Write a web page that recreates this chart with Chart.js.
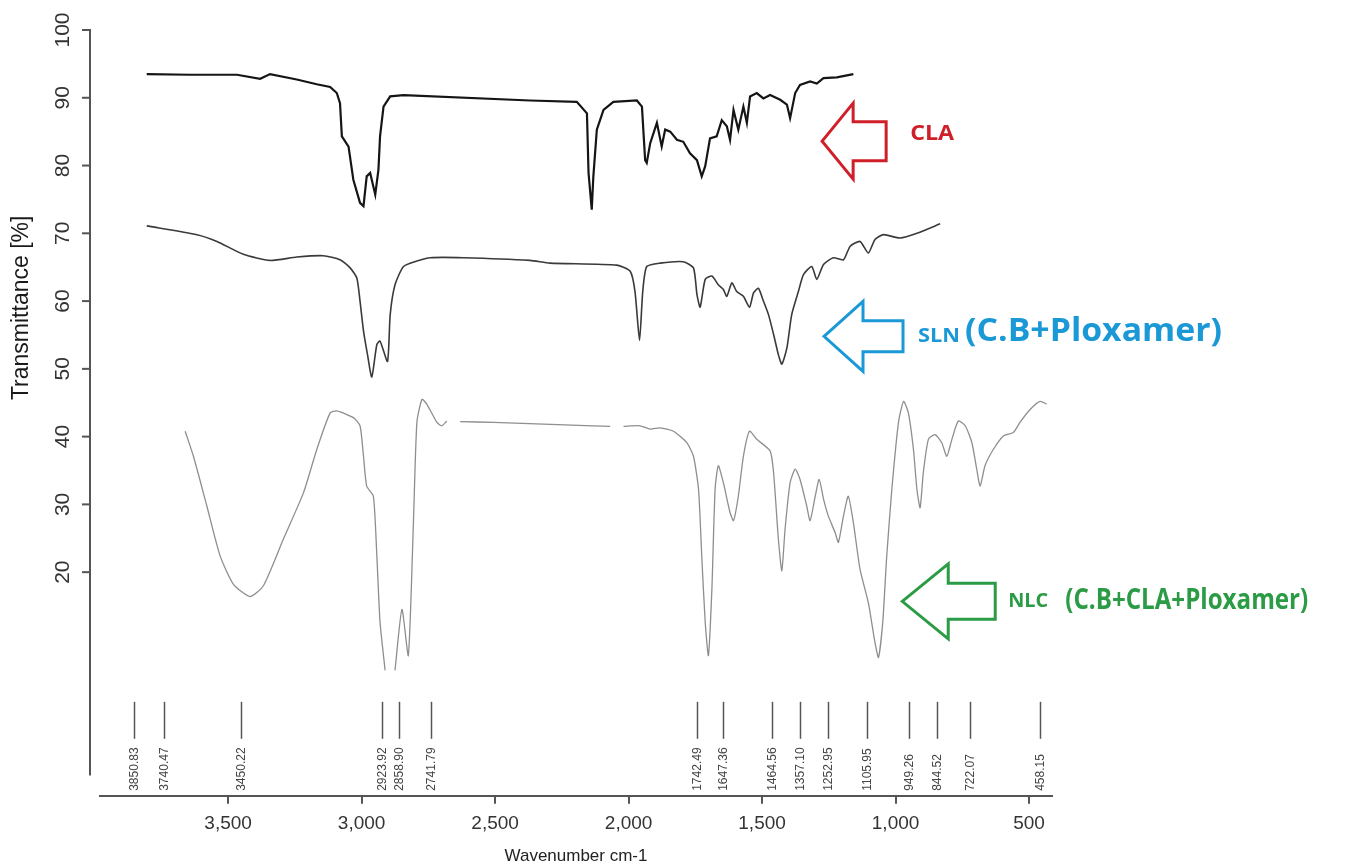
<!DOCTYPE html>
<html>
<head>
<meta charset="utf-8">
<title>FTIR – CLA, SLN, NLC</title>
<script src="https://cdn.jsdelivr.net/npm/chart.js@4.4.1/dist/chart.umd.min.js"></script>
<style>
  html, body { margin: 0; padding: 0; background: #fff; }
  #wrap { width: 1345px; height: 867px; position: relative; }
</style>
</head>
<body>
<div id="wrap"><canvas id="ftir"></canvas></div>
<script>
// spectra: wavenumber (cm-1) and transmittance (%)
const claWave = [3805, 3642, 3467, 3380, 3343, 3243, 3168, 3118, 3093, 3081, 3074, 3049, 3031, 3006, 2993, 2981, 2968, 2949, 2937, 2931,
  2918, 2893, 2843, 2369, 2194, 2156, 2150, 2138, 2132, 2119, 2094, 2057, 1969, 1950, 1938, 1932, 1919, 1894, 1876, 1863,
  1844, 1819, 1795, 1770, 1744, 1726, 1713, 1695, 1670, 1651, 1632, 1620, 1607, 1589, 1570, 1557, 1545, 1520, 1495, 1470,
  1432, 1407, 1395, 1376, 1358, 1320, 1295, 1270, 1220, 1158];
const claT = [93.5, 93.4, 93.4, 92.8, 93.5, 92.7, 92.0, 91.6, 90.7, 89.2, 84.3, 82.8, 77.9, 74.5, 74.0, 78.4, 78.9, 75.7, 79.4, 84.3,
  88.7, 90.2, 90.4, 89.6, 89.4, 87.7, 78.9, 73.5, 78.4, 85.3, 88.2, 89.4, 89.6, 88.7, 80.8, 80.4, 83.3, 86.3, 82.8, 85.3,
  85.0, 83.8, 83.5, 81.8, 80.8, 78.4, 79.9, 84.0, 84.3, 86.7, 85.8, 83.8, 88.2, 85.3, 88.7, 86.3, 90.2, 90.7, 89.9, 90.4,
  89.7, 89.0, 87.0, 90.7, 91.9, 92.4, 92.1, 92.9, 93.0, 93.5];

const slnWave = [3805, 3617, 3542, 3443, 3343, 3243, 3143, 3081, 3043, 3018, 3006, 2993, 2978, 2962, 2943, 2931, 2903, 2893, 2875, 2843,
  2793, 2743, 2619, 2369, 2294, 2044, 1994, 1976, 1959, 1947, 1932, 1882, 1795, 1757, 1744, 1732, 1713, 1688, 1664, 1645,
  1632, 1613, 1595, 1570, 1547, 1532, 1514, 1495, 1476, 1457, 1439, 1426, 1407, 1389, 1364, 1345, 1314, 1295, 1270, 1233,
  1195, 1170, 1133, 1102, 1077, 1045, 983, 920, 833];
const slnT = [71.1, 69.8, 68.8, 66.9, 66.0, 66.5, 66.7, 66.1, 64.9, 63.4, 60.0, 55.6, 52.1, 48.8, 53.6, 54.1, 51.1, 58.0, 62.4, 65.1,
  65.9, 66.4, 66.4, 66.0, 65.6, 65.3, 64.4, 61.4, 54.2, 61.4, 65.1, 65.6, 65.8, 64.9, 61.0, 59.1, 63.2, 63.7, 62.4, 61.7,
  60.7, 62.7, 61.4, 60.7, 59.1, 61.2, 61.9, 60.0, 58.0, 55.1, 52.1, 50.7, 53.1, 58.0, 61.4, 63.9, 65.1, 63.2, 65.4, 66.4,
  66.1, 68.1, 68.8, 67.1, 69.1, 69.8, 69.3, 70.0, 71.4];

// null = gap in the printed trace
const nlcWave = [3661, 3630, 3580, 3530, 3480, 3418, 3368, 3293, 3218, 3168, 3118, 3093, 3031, 3006, 2993, 2981, 2956, 2943, 2931, 2912,
  2893, 2875, 2849, 2825, 2806, 2793, 2774, 2756, 2718, 2700, 2681, 2656, 2631, 2506, 2132, 2069, 2044, 2019, 1957, 1919,
  1882, 1832, 1782, 1757, 1738, 1726, 1713, 1701, 1688, 1676, 1664, 1645, 1620, 1607, 1589, 1570, 1547, 1520, 1470, 1457,
  1439, 1426, 1414, 1395, 1376, 1358, 1333, 1320, 1301, 1286, 1270, 1252, 1226, 1214, 1195, 1177, 1158, 1133, 1102, 1077,
  1064, 1048, 1033, 1014, 989, 970, 952, 933, 920, 908, 896, 877, 852, 827, 808, 789, 765, 739, 714, 696,
  683, 665, 634, 596, 559, 534, 496, 459, 434];
const nlcT = [40.8, 37.1, 29.8, 22.4, 18.2, 16.4, 18.0, 24.9, 31.7, 38.1, 43.5, 43.8, 42.8, 41.6, 37.1, 32.7, 31.2, 22.4, 12.6, 5.5,
  null, 5.5, 14.5, 7.7, 27.3, 42.1, 45.5, 44.8, 42.1, 41.6, 42.3, null, 42.2, 42.1, 41.6, 41.5, null, 41.5, 41.6, 41.1,
  41.3, 40.8, 39.1, 37.1, 32.2, 22.4, 12.6, 7.7, 17.5, 32.2, 35.7, 33.2, 28.8, 27.6, 31.2, 37.1, 40.8, 39.6, 37.9, 34.7,
  24.9, 20.2, 26.3, 33.2, 35.2, 33.7, 29.8, 27.6, 31.2, 33.7, 30.8, 28.3, 25.8, 24.4, 28.3, 31.2, 27.3, 20.4, 15.5, 9.6,
  7.4, 12.6, 22.4, 32.2, 42.1, 45.2, 43.5, 38.1, 32.2, 29.5, 34.7, 39.6, 40.3, 39.1, 37.1, 39.6, 42.3, 41.6, 39.1, 35.2,
  32.7, 35.7, 38.1, 40.1, 40.6, 42.1, 44.0, 45.2, 44.8];

const peakLabels = ['3850.83', '3740.47', '3450.22', '2923.92', '2858.90', '2741.79', '1742.49', '1647.36',
  '1464.56', '1357.10', '1252.95', '1105.95', '949.26', '844.52', '722.07', '458.15'];

const xTicks = [3500, 3000, 2500, 2000, 1500, 1000, 500];
const yTicks = [20, 30, 40, 50, 60, 70, 80, 90, 100];

const toPoints = (xs, ys) => xs.map((w, i) => ({ x: w, y: ys[i] }));

const FONT = '"Liberation Sans", Arial, sans-serif';
const LABEL_FONT = '"Open Sans", "Noto Sans", sans-serif';

// arrow call-outs, tip given in data units
const callouts = [
  { color: '#cf1f29', tipW: 1275, tipT: 83.6, head: 31, len: 64, headHalf: 38, shaftHalf: 19.5,
    texts: [{ t: 'CLA', dx: 88, dy: -7, size: 22, width: 44 }] },
  { color: '#1b98d6', tipW: 1268, tipT: 54.8, head: 39, len: 79, headHalf: 35, shaftHalf: 15.5,
    texts: [{ t: 'SLN', dx: 94, dy: 0, size: 20, width: 42 },
            { t: '(C.B+Ploxamer)', dx: 141, dy: -4, size: 32, width: 257 }] },
  { color: '#2b9b45', tipW: 975, tipT: 15.7, head: 46, len: 93, headHalf: 37.5, shaftHalf: 18,
    texts: [{ t: 'NLC', dx: 106, dy: 0, size: 20, width: 40 },
            { t: '(C.B+CLA+Ploxamer)', dx: 163, dy: 0, size: 28, width: 243 }] }
];

const decorations = {
  id: 'decorations',
  afterDraw(chart) {
    const { ctx, chartArea, scales: { x, y } } = chart;
    ctx.save();

    // detached y axis, R style
    const ax = chartArea.left - 10;
    ctx.strokeStyle = '#555';
    ctx.lineWidth = 2;
    ctx.beginPath();
    ctx.moveTo(ax, y.getPixelForValue(100) - 1);
    ctx.lineTo(ax, y.getPixelForValue(-10));
    ctx.stroke();
    ctx.fillStyle = '#333';
    ctx.font = '21px ' + FONT;
    ctx.textAlign = 'center';
    ctx.textBaseline = 'middle';
    yTicks.forEach(v => {
      const py = y.getPixelForValue(v);
      ctx.beginPath();
      ctx.moveTo(ax - 8, py);
      ctx.lineTo(ax, py);
      ctx.stroke();
      ctx.save();
      ctx.translate(ax - 27, py);
      ctx.rotate(-Math.PI / 2);
      ctx.fillText(String(v), 0, 0);
      ctx.restore();
    });

    // y title
    ctx.save();
    ctx.fillStyle = '#1a1a1a';
    ctx.font = '23px ' + FONT;
    ctx.translate(22, y.getPixelForValue(59));
    ctx.rotate(-Math.PI / 2);
    ctx.fillText('Transmittance [%]', 0, 0);
    ctx.restore();

    // peak markers
    const base = chartArea.bottom;
    ctx.strokeStyle = '#555';
    ctx.lineWidth = 1.5;
    ctx.fillStyle = '#444';
    ctx.font = '12px ' + FONT;
    ctx.textAlign = 'left';
    peakLabels.forEach(lbl => {
      const px = Math.round(x.getPixelForValue(parseFloat(lbl))) + 0.5;
      ctx.beginPath();
      ctx.moveTo(px, base - 94);
      ctx.lineTo(px, base - 57);
      ctx.stroke();
      ctx.save();
      ctx.translate(px, base - 5);
      ctx.rotate(-Math.PI / 2);
      ctx.fillText(lbl, 0, 0);
      ctx.restore();
    });

    // arrows pointing at each trace
    callouts.forEach(c => {
      const tx = x.getPixelForValue(c.tipW);
      const ty = y.getPixelForValue(c.tipT);
      ctx.strokeStyle = c.color;
      ctx.lineWidth = 3;
      ctx.lineJoin = 'miter';
      ctx.beginPath();
      ctx.moveTo(tx, ty);
      ctx.lineTo(tx + c.head, ty - c.headHalf);
      ctx.lineTo(tx + c.head, ty - c.shaftHalf);
      ctx.lineTo(tx + c.len, ty - c.shaftHalf);
      ctx.lineTo(tx + c.len, ty + c.shaftHalf);
      ctx.lineTo(tx + c.head, ty + c.shaftHalf);
      ctx.lineTo(tx + c.head, ty + c.headHalf);
      ctx.closePath();
      ctx.stroke();
      ctx.fillStyle = c.color;
      ctx.textBaseline = 'middle';
      ctx.textAlign = 'left';
      c.texts.forEach(t => {
        ctx.font = 'bold ' + t.size + 'px ' + LABEL_FONT;
        const w = ctx.measureText(t.t).width;
        ctx.save();
        ctx.translate(tx + t.dx, ty + t.dy);
        ctx.scale(t.width / w, 1);
        ctx.fillText(t.t, 0, 0);
        ctx.restore();
      });
    });

    ctx.restore();
  }
};

Chart.defaults.font.family = FONT;
Chart.defaults.color = '#333';

new Chart(document.getElementById('ftir'), {
  type: 'scatter',
  data: {
    datasets: [
      { label: 'CLA', data: toPoints(claWave, claT), showLine: true, borderColor: '#151515', borderWidth: 2.2,
        pointRadius: 0, tension: 0 },
      { label: 'SLN (C.B+Ploxamer)', data: toPoints(slnWave, slnT), showLine: true, borderColor: '#3a3a3a', borderWidth: 1.6,
        pointRadius: 0, tension: 0.2 },
      { label: 'NLC (C.B+CLA+Ploxamer)', data: toPoints(nlcWave, nlcT), showLine: true, borderColor: '#8e8e8e', borderWidth: 1.3,
        pointRadius: 0, tension: 0.2, spanGaps: false }
    ]
  },
  options: {
    responsive: true,
    maintainAspectRatio: false,
    animation: false,
    layout: { padding: { left: 100, right: 293, top: 30, bottom: 0 } },
    plugins: { legend: { display: false }, tooltip: { enabled: false } },
    scales: {
      x: {
        type: 'linear',
        reverse: true,
        min: 414,
        max: 3980,
        afterBuildTicks: s => { s.ticks = xTicks.map(v => ({ value: v })); },
        border: { display: true, color: '#555', width: 2 },
        grid: { drawOnChartArea: false, drawTicks: true, tickLength: 8, color: '#555', lineWidth: 2 },
        ticks: { padding: 9, color: '#333', font: { size: 19 }, maxRotation: 0,
          callback: v => v.toLocaleString('en-US') },
        title: { display: true, text: 'Wavenumber cm-1', color: '#222', font: { size: 17 },
          padding: { top: 2, bottom: 0 } }
      },
      y: {
        display: false,
        min: -13,
        max: 100
      }
    }
  },
  plugins: [decorations]
});
</script>
</body>
</html>
